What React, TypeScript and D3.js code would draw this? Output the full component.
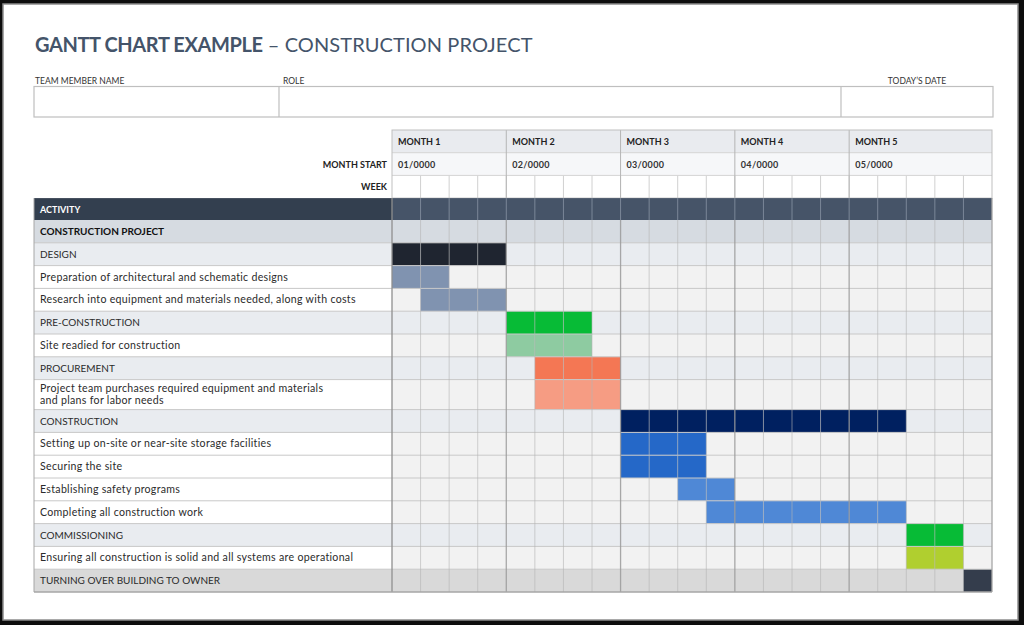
import React, { useEffect, useRef } from 'react';
import * as d3 from 'd3';

// header data
const months = ['MONTH 1', 'MONTH 2', 'MONTH 3', 'MONTH 4', 'MONTH 5'];
const monthStarts = ['01/0000', '02/0000', '03/0000', '04/0000', '05/0000'];
const weeksPerMonth = [4, 4, 4, 4, 5];

// activity rows
const activities = [
  'CONSTRUCTION PROJECT',
  'DESIGN',
  'Preparation of architectural and schematic designs',
  'Research into equipment and materials needed, along with costs',
  'PRE-CONSTRUCTION',
  'Site readied for construction',
  'PROCUREMENT',
  'Project team purchases required equipment and materials\nand plans for labor needs',
  'CONSTRUCTION',
  'Setting up on-site or near-site storage facilities',
  'Securing the site',
  'Establishing safety programs',
  'Completing all construction work',
  'COMMISSIONING',
  'Ensuring all construction is solid and all systems are operational',
  'TURNING OVER BUILDING TO OWNER'
];
const kinds = [
  'project', 'phase', 'task', 'task', 'phase', 'task', 'phase', 'task',
  'phase', 'task', 'task', 'task', 'task', 'phase', 'task', 'final'
];
// week index where each bar starts / ends (exclusive), null = no bar
const startWeek = [null, 0, 0, 1, 4, 4, 5, 5, 8, 8, 8, 10, 11, 18, 18, 20];
const endWeek = [null, 4, 2, 4, 7, 7, 8, 8, 18, 11, 11, 12, 18, 20, 20, 21];

// styles
const barColors = [
  'none', '#1f2530', '#8093b0', '#8093b0', '#07bb36', '#8ecba1', '#f47754', '#f69c83',
  '#002060', '#2568c8', '#2568c8', '#4f88d6', '#4f88d6', '#07bb36', '#b0cf2f', '#343d4c'
];
const rowFill: Record<string, [string, string]> = {
  project: ['#d6dbe1', '#d6dbe1'],
  phase: ['#e9ecf0', '#e9ecf0'],
  task: ['#ffffff', '#f2f2f2'],
  final: ['#d9d9d9', '#d9d9d9']
};

const FONT = 'Lato, "Open Sans", "DejaVu Sans", sans-serif';

export default () => {
  const svgRef = useRef<SVGSVGElement>(null);

  const width = 1024;
  const height = 625;
  const leftX = 34;
  const gridLeft = 392;
  const gridRight = 992;
  const headTop = 130;
  const headRow = 22.7;
  const rowH = 22.8;
  const tallH = 30;
  const bodyTop = 220;

  useEffect(() => {
    if (!svgRef.current) return;
    const svg = d3.select(svgRef.current);
    svg.selectAll('*').remove();

    // frame
    svg.append('rect').attr('width', width).attr('height', height).attr('fill', '#0d0d0d');
    svg.append('rect')
      .attr('x', 3).attr('y', 4).attr('width', 1015).attr('height', 616)
      .attr('fill', '#fff').attr('stroke', '#8c8c8c').attr('stroke-width', 1.5);

    // title
    const title = svg.append('text')
      .attr('x', 35).attr('y', 52)
      .attr('font-family', FONT).attr('font-size', 20).attr('fill', '#44546a');
    title.append('tspan').attr('font-weight', 700).attr('letter-spacing', -0.4).text('GANTT CHART EXAMPLE');
    title.append('tspan').attr('font-weight', 400).attr('letter-spacing', 0.1).text(' – CONSTRUCTION PROJECT');

    // info box
    const info = svg.append('g').attr('font-family', FONT).attr('font-size', 8.5).attr('fill', '#333');
    info.append('text').attr('x', 35).attr('y', 84).text('TEAM MEMBER NAME');
    info.append('text').attr('x', 283).attr('y', 84).text('ROLE');
    info.append('text').attr('x', 917).attr('y', 84).attr('text-anchor', 'middle').text('TODAY\u2019S DATE');
    info.append('rect')
      .attr('x', 34).attr('y', 86.5).attr('width', 959).attr('height', 30.5)
      .attr('fill', '#fff').attr('stroke', '#bfbfbf').attr('stroke-width', 1.2);
    [279, 841].forEach(x => {
      info.append('line').attr('x1', x).attr('x2', x).attr('y1', 86.5).attr('y2', 117)
        .attr('stroke', '#bfbfbf').attr('stroke-width', 1.2);
    });

    // week scale
    const totalWeeks = d3.sum(weeksPerMonth);
    const x = d3.scaleBand<number>()
      .domain(d3.range(totalWeeks))
      .range([gridLeft, gridRight]);
    const monthEnds = Array.from(d3.cumsum(weeksPerMonth));
    const monthStartIdx = [0, ...monthEnds.slice(0, -1)];
    const wx = (w: number) => (w >= totalWeeks ? gridRight : (x(w) as number));

    // header table
    const head = svg.append('g').attr('font-family', FONT);
    head.append('rect').attr('x', gridLeft).attr('y', headTop).attr('width', gridRight - gridLeft).attr('height', headRow).attr('fill', '#e9ebef');
    head.append('rect').attr('x', gridLeft).attr('y', headTop + headRow).attr('width', gridRight - gridLeft).attr('height', headRow).attr('fill', '#f6f7f9');
    head.append('rect').attr('x', gridLeft).attr('y', headTop + headRow * 2).attr('width', gridRight - gridLeft).attr('height', headRow).attr('fill', '#fff');

    head.selectAll('text.month')
      .data(months)
      .enter()
      .append('text')
      .attr('x', (d, i) => wx(monthStartIdx[i]) + 6)
      .attr('y', headTop + 15)
      .attr('font-size', 9).attr('font-weight', 700).attr('fill', '#222')
      .text(d => d);
    head.selectAll('text.mstart')
      .data(monthStarts)
      .enter()
      .append('text')
      .attr('x', (d, i) => wx(monthStartIdx[i]) + 6)
      .attr('y', headTop + headRow + 15)
      .attr('font-size', 9).attr('font-weight', 700).attr('fill', '#333')
      .attr('letter-spacing', 0.3)
      .text(d => d);
    head.append('text').attr('x', 387).attr('y', headTop + headRow + 15).attr('text-anchor', 'end')
      .attr('font-size', 9).attr('font-weight', 700).attr('fill', '#222').text('MONTH START');
    head.append('text').attr('x', 387).attr('y', headTop + headRow * 2 + 15).attr('text-anchor', 'end')
      .attr('font-size', 9).attr('font-weight', 700).attr('fill', '#222').text('WEEK');

    // week dividers in the WEEK row
    head.selectAll('line.wk')
      .data(d3.range(1, totalWeeks))
      .enter()
      .append('line')
      .attr('x1', d => wx(d)).attr('x2', d => wx(d))
      .attr('y1', headTop + headRow * 2).attr('y2', headTop + headRow * 3)
      .attr('stroke', '#d0d0d0');
    // horizontal header lines
    [1, 2].forEach(r => {
      head.append('line').attr('x1', gridLeft).attr('x2', gridRight)
        .attr('y1', headTop + headRow * r).attr('y2', headTop + headRow * r)
        .attr('stroke', '#d4d4d4');
    });
    // month dividers in header
    head.selectAll('line.mo')
      .data(monthStartIdx.slice(1))
      .enter()
      .append('line')
      .attr('x1', d => wx(d)).attr('x2', d => wx(d))
      .attr('y1', headTop).attr('y2', headTop + headRow * 3)
      .attr('stroke', '#b5b5b5');
    head.append('rect').attr('x', gridLeft).attr('y', headTop).attr('width', gridRight - gridLeft).attr('height', headRow * 3)
      .attr('fill', 'none').attr('stroke', '#bfbfbf');

    // activity row
    const actTop = headTop + headRow * 3;
    const actH = bodyTop - actTop;
    svg.append('rect').attr('x', leftX).attr('y', actTop).attr('width', gridLeft - leftX).attr('height', actH).attr('fill', '#333f4f');
    svg.append('rect').attr('x', gridLeft).attr('y', actTop).attr('width', gridRight - gridLeft).attr('height', actH).attr('fill', '#465468');
    svg.selectAll('line.actwk')
      .data(d3.range(1, totalWeeks))
      .enter()
      .append('line')
      .attr('x1', d => wx(d)).attr('x2', d => wx(d))
      .attr('y1', actTop).attr('y2', bodyTop)
      .attr('stroke', '#7b8798').attr('stroke-width', 1);
    svg.append('text').attr('x', 40).attr('y', actTop + 14.5)
      .attr('font-family', FONT).attr('font-size', 9).attr('font-weight', 700).attr('fill', '#fff')
      .text('ACTIVITY');

    // body rows
    const heights = activities.map(a => (a.includes('\n') ? tallH : rowH));
    const tops = heights.map((h, i) => bodyTop + d3.sum(heights.slice(0, i)));
    const bodyBottom = bodyTop + d3.sum(heights);

    const body = svg.append('g');
    activities.forEach((a, i) => {
      const [lf, gf] = rowFill[kinds[i]];
      body.append('rect').attr('x', leftX).attr('y', tops[i]).attr('width', gridLeft - leftX).attr('height', heights[i]).attr('fill', lf);
      body.append('rect').attr('x', gridLeft).attr('y', tops[i]).attr('width', gridRight - gridLeft).attr('height', heights[i]).attr('fill', gf);
    });

    // bars, one cell per week
    activities.forEach((a, i) => {
      const s = startWeek[i];
      const e = endWeek[i];
      if (s === null || e === null) return;
      body.selectAll(`rect.bar${i}`)
        .data(d3.range(s, e))
        .enter()
        .append('rect')
        .attr('x', d => wx(d))
        .attr('y', tops[i])
        .attr('width', x.bandwidth())
        .attr('height', heights[i])
        .attr('fill', barColors[i]);
    });

    // horizontal row lines
    body.selectAll('line.row')
      .data(tops.slice(1))
      .enter()
      .append('line')
      .attr('x1', leftX).attr('x2', gridRight)
      .attr('y1', d => d).attr('y2', d => d)
      .attr('stroke', '#c8c8c8').attr('stroke-width', 1);

    // vertical week lines
    const monthSet = new Set(monthStartIdx);
    body.selectAll('line.wk')
      .data(d3.range(1, totalWeeks))
      .enter()
      .append('line')
      .attr('x1', d => wx(d)).attr('x2', d => wx(d))
      .attr('y1', bodyTop).attr('y2', bodyBottom)
      .attr('stroke', d => (monthSet.has(d) ? '#9a9a9a' : '#b4b4b4'))
      .attr('stroke-opacity', d => (monthSet.has(d) ? 0.85 : 0.6))
      .attr('stroke-width', d => (monthSet.has(d) ? 1.3 : 1));

    // outer borders
    body.append('line').attr('x1', leftX).attr('x2', leftX).attr('y1', actTop).attr('y2', bodyBottom).attr('stroke', '#a6a6a6');
    body.append('line').attr('x1', gridLeft).attr('x2', gridLeft).attr('y1', actTop).attr('y2', bodyBottom).attr('stroke', '#8f8f8f').attr('stroke-width', 1.3);
    body.append('line').attr('x1', gridRight).attr('x2', gridRight).attr('y1', actTop).attr('y2', bodyBottom).attr('stroke', '#a6a6a6').attr('stroke-width', 1.3);
    body.append('line').attr('x1', leftX).attr('x2', gridRight).attr('y1', bodyBottom).attr('y2', bodyBottom).attr('stroke', '#a6a6a6').attr('stroke-width', 1.5);

    // labels
    activities.forEach((a, i) => {
      const lines = a.split('\n');
      const k = kinds[i];
      const t = body.append('text')
        .attr('font-family', FONT)
        .attr('font-size', k === 'project' ? 10 : k === 'task' ? 10.6 : 10)
        .attr('letter-spacing', k === 'task' ? 0.3 : 0)
        .attr('font-weight', k === 'project' ? 700 : 400)
        .attr('fill', k === 'project' ? '#111' : '#2b2b2b');
      if (lines.length === 1) {
        t.attr('x', 40).attr('y', tops[i] + heights[i] / 2 + 3.6).text(a);
      } else {
        lines.forEach((l, j) => {
          t.append('tspan').attr('x', 40).attr('y', tops[i] + 12.5 + j * 11.5).text(l);
        });
      }
    });
  }, []);

  return (
    <div style={{ position: 'absolute', left: 0, top: 0, width, height }}>
      <svg ref={svgRef} width={width} height={height} style={{ display: 'block' }} />
    </div>
  );
};
